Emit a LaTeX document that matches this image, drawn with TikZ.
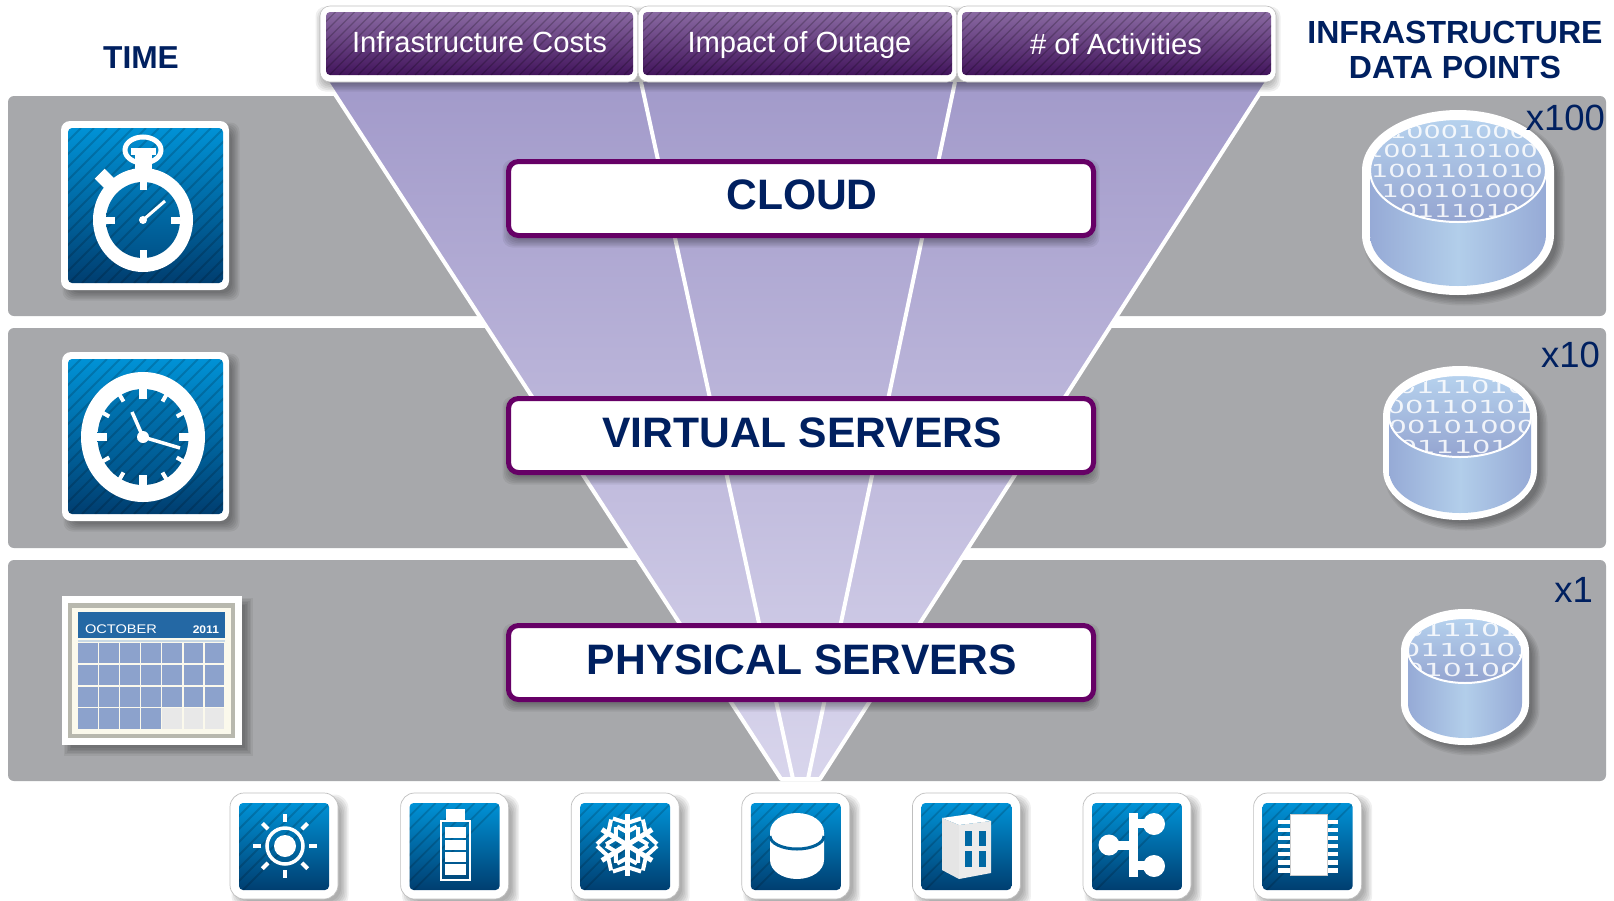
\documentclass[tikz,border=0pt]{standalone}
\usepackage{fontspec}
\setmainfont{Liberation Sans}
\newfontfamily\digitfont{DejaVu Sans}
\definecolor{navy}{RGB}{0,32,96}
\definecolor{bandgray}{RGB}{167,168,171}
\definecolor{mainpurple}{RGB}{102,0,102}
\definecolor{bluetop}{RGB}{0,146,214}
\definecolor{bluebot}{RGB}{0,62,112}
\definecolor{tabtop}{RGB}{138,106,162}
\definecolor{tabbot}{RGB}{66,20,92}
\definecolor{cellblue}{RGB}{140,162,204}
\definecolor{funtop}{RGB}{162,154,202}
\definecolor{funbot}{RGB}{216,213,236}
\definecolor{calhead}{RGB}{36,104,164}
\definecolor{calband}{RGB}{200,216,228}
\definecolor{calframe}{RGB}{184,184,174}
\definecolor{calcream}{RGB}{251,249,236}
\definecolor{cylside}{RGB}{150,170,214}
\definecolor{cylmid}{RGB}{178,206,234}
\definecolor{cyltop}{RGB}{182,210,238}
\definecolor{cylbot}{RGB}{148,164,208}
\newcommand{\fsz}[1]{\fontsize{#1}{#1}\selectfont}
% soft shadow: x1 y1 x2 y2 radius dx dy
\newcommand{\softshadow}[7]{%
  \foreach \i in {0,...,5}{%
    \fill[black,opacity=.06,rounded corners=#5pt]
      ({#1+#6+3-\i*1.5},{#2+#7+3-\i*1.5}) rectangle ({#3+#6-3+\i*1.5},{#4+#7-3+\i*1.5});}}
% stripes: x1 y1 x2 y2 radius spacing width opacity
\newcommand{\stripes}[8]{%
  \begin{scope}
    \clip[rounded corners=#5pt] (#1,#2) rectangle (#3,#4);
    \pgfmathtruncatemacro{\nst}{(#3-#1+#4-#2)/#6+1}
    \foreach \k in {0,...,\nst}{%
      \draw[black,opacity=#8,line width=#7pt] ({#1-(#4-#2)+\k*#6},#4) -- ({#1+\k*#6},#2);}
  \end{scope}}
% icon tile: outer x1 y1 x2 y2, inner x1 y1 x2 y2, outer radius
\newcommand{\icontile}[9]{%
  \softshadow{#1}{#2}{#3}{#4}{#9}{6}{6}
  \fill[white,rounded corners=#9pt] (#1,#2) rectangle (#3,#4);
  \shade[top color=bluetop,bottom color=bluebot,rounded corners=4pt] (#5,#6) rectangle (#7,#8);
  \stripes{#5}{#6}{#7}{#8}{4}{13}{1.8}{.16}}
% cylinder: cx rxo ytop ybot rxi etop ebot ibot
\newcommand{\cyl}[8]{%
  \pgfmathsetmacro{\yc}{(#6+#7)/2}
  \pgfmathsetmacro{\ryi}{(#7-#6)/2}
  \pgfmathsetmacro{\ryo}{\yc-#3}
  \pgfmathsetmacro{\yb}{#4-\ryo}
  \pgfmathsetmacro{\rib}{#8-\yb}
  \foreach \i in {0,...,5}{%
    \pgfmathsetmacro{\sa}{#2-3+\i*1.5}
    \pgfmathsetmacro{\sb}{\ryo-3+\i*1.5}
    \fill[black,opacity=.06]
      ({#1+6-\sa},{\yc+6}) arc[start angle=180,end angle=0,x radius=\sa pt,y radius=\sb pt]
      -- ({#1+6+\sa},{\yb+6}) arc[start angle=0,end angle=-180,x radius=\sa pt,y radius=\sb pt] -- cycle;}
  \fill[white]
      ({#1-#2},\yc) arc[start angle=180,end angle=0,x radius=#2pt,y radius=\ryo pt]
      -- ({#1+#2},\yb) arc[start angle=0,end angle=-180,x radius=#2pt,y radius=\ryo pt] -- cycle;
  \shade[left color=cylside,right color=cylside,middle color=cylmid]
      ({#1-#5},\yc) -- ({#1-#5},\yb) arc[start angle=180,end angle=360,x radius=#5pt,y radius=\rib pt]
      -- ({#1+#5},\yc) -- cycle;
  \shade[top color=cyltop,bottom color=cylbot]
      (#1,\yc) ellipse[x radius=#5pt,y radius=\ryi pt];
  \draw[white,line width=2pt] (#1,\yc) ellipse[x radius=#5pt,y radius=\ryi pt];}
\newcommand{\bits}[2]{\scalebox{#1}[1]{\digitfont\fsz{18}#2}}
\tikzset{
  txt/.style={inner sep=0pt,outer sep=0pt,anchor=base},
  hdr/.style={txt,text=navy,font=\bfseries},
  tabtxt/.style={txt,text=white,font=\fsz{29.2}},
  mult/.style={inner sep=0pt,outer sep=0pt,anchor=base east,text=navy,font=\fsz{36.5}},
  mainbox/.style={draw=mainpurple,line width=5pt,fill=white,rounded corners=10pt,minimum width=585pt,minimum height=74pt,inner sep=0pt,outer sep=0pt},
  maintxt/.style={txt,text=navy,font=\bfseries\fsz{42.6}},
  bit/.style={inner sep=0pt,outer sep=0pt,text=white,opacity=.85},
}
\begin{document}
\begin{tikzpicture}[x=1pt,y=-1pt]
\useasboundingbox (0,0) rectangle (1614,900);
\fill[white] (0,0) rectangle (1614,900);
% bands
\fill[bandgray,rounded corners=6pt] (8,96) rectangle (1606,316);
\fill[bandgray,rounded corners=6pt] (8,328) rectangle (1606,548);
\fill[bandgray,rounded corners=6pt] (8,560) rectangle (1606,781);
% funnel
\coordinate (fTL) at (327,82);
\coordinate (fTR) at (1267,82);
\coordinate (fBL) at (781,779);
\coordinate (fBR) at (820,779);
\coordinate (iTL) at (641,82);
\coordinate (iBL) at (793,779);
\coordinate (iTR) at (955,82);
\coordinate (iBR) at (808,779);
\shade[top color=funtop,bottom color=funbot] (fTL) -- (fTR) -- (fBR) -- (fBL) -- cycle;
\draw[white,line width=4pt,line join=round] (fTL) -- (fBL) -- (fBR) -- (fTR);
\draw[white,line width=4pt] (iTL) -- (iBL);
\draw[white,line width=4pt] (iTR) -- (iBR);
% tabs
\softshadow{320}{6}{1276}{82}{10}{0}{5}
\foreach \xa/\xb/\ia/\ib in {320/638/326/633,638/957/643/952,957/1276/962/1271}{%
  \fill[white,rounded corners=10pt] (\xa,6) rectangle (\xb,82);
  \draw[black!25,line width=.6pt,rounded corners=10pt] (\xa,6) rectangle (\xb,82);
  \shade[top color=tabtop,bottom color=tabbot,rounded corners=4pt] (\ia,12) rectangle (\ib,75);
  \stripes{\ia}{12}{\ib}{75}{4}{9.5}{1.1}{.22}
}
\node[tabtxt] (tabA) at (479.5,52) {Infrastructure Costs};
\node[tabtxt] (tabB) at (799.5,52) {Impact of Outage};
\node[tabtxt] (tabC) at (1116,54) {\# of Activities};
% headers
\node[hdr,font=\bfseries\fsz{31.7}] (time) at (141,68) {TIME};
\node[hdr,font=\bfseries\fsz{32}] (infra) at (1455,43) {INFRASTRUCTURE};
\node[hdr,font=\bfseries\fsz{32}] (dpts) at (1455,78) {DATA POINTS};
% main boxes
\softshadow{507}{159}{1095}{238}{10}{0}{5}
\softshadow{507}{396}{1095}{475}{10}{0}{5}
\softshadow{507}{623}{1095}{702}{10}{0}{5}
\node[mainbox] (cloudbox) at (801,198.5) {};
\node[mainbox] (virtbox) at (801,435.5) {};
\node[mainbox] (physbox) at (801,662.5) {};
\node[maintxt] (cloud) at (802,209) {CLOUD};
\node[maintxt] (virt) at (802,447) {VIRTUAL SERVERS};
\node[maintxt] (phys) at (802,674) {PHYSICAL SERVERS};
% stopwatch
\icontile{61}{121}{229}{290}{68}{128}{223}{283}{9}
\fill[white] (143,220) ellipse[x radius=50pt,y radius=52pt];
\begin{scope}[shift={(106,180)},rotate=-45]
  \fill[white] (-9,-7) rectangle (9,7);
\end{scope}
\draw[white,line width=5pt] (143,150) ellipse[x radius=18pt,y radius=13pt];
\fill[white] (135,152) rectangle (152,172);
\fill[white] (131,148) rectangle (156,155);
\shade[top color=bluetop!70!bluebot,bottom color=bluetop!25!bluebot] (143,220) ellipse[x radius=37pt,y radius=38pt];
\begin{scope}
  \clip (143,220) ellipse[x radius=37pt,y radius=38pt];
  \foreach \k in {0,...,8}{\draw[black,opacity=.16,line width=1.8pt] ({0+\k*13},270) -- ({100+\k*13},170);}
\end{scope}
\fill[white] (139.5,181) rectangle (146.5,190);
\fill[white] (139.5,250) rectangle (146.5,259);
\fill[white] (106,216.5) rectangle (115,223.5);
\fill[white] (171,216.5) rectangle (180,223.5);
\draw[white,line width=3pt] (143,220) -- (165,201);
\fill[white] (143,220) circle[radius=4pt];
% clock
\icontile{62}{352}{229}{521}{68}{359}{223}{514}{9}
\fill[white] (143,437) ellipse[x radius=62pt,y radius=65pt];
\shade[top color=bluetop!70!bluebot,bottom color=bluetop!25!bluebot] (143,437) ellipse[x radius=45.5pt,y radius=48pt];
\begin{scope}
  \clip (143,437) ellipse[x radius=45.5pt,y radius=48pt];
  \foreach \k in {0,...,13}{\draw[black,opacity=.16,line width=1.8pt] ({-30+\k*13},500) -- ({100+\k*13},370);}
\end{scope}
\foreach \a in {30,60,120,150,210,240,300,330}{%
  \draw[white,line width=4pt] ({143+39*cos(\a)},{437+41*sin(\a)}) -- ({143+47*cos(\a)},{437+49*sin(\a)});}
\foreach \a in {0,90,180,270}{%
  \draw[white,line width=8pt] ({143+36*cos(\a)},{437+38*sin(\a)}) -- ({143+47*cos(\a)},{437+49*sin(\a)});}
\draw[white,line width=3.5pt] (143,437) -- (132,412);
\draw[white,line width=3.5pt] (143,437) -- (180,448);
\fill[white] (143,437) circle[radius=6pt];
% calendar
\softshadow{62}{596}{242}{745}{0}{6}{6}
\fill[white] (62,596) rectangle (242,745);
\fill[calframe] (68,603) rectangle (235,738);
\fill[calcream] (72,608) rectangle (231,734);
\fill[calhead] (78,612) rectangle (225,638);
\fill[calband] (78,640) rectangle (225,642);
\foreach \r in {0,...,3}{\foreach \c in {0,...,6}{%
  \pgfmathtruncatemacro{\isgray}{(\r==3 && \c>3)?1:0}
  \ifnum\isgray=1
    \fill[black!9] ({78+\c*21.1},{643+\r*21.8}) rectangle ({78+\c*21.1+19.6},{643+\r*21.8+20.3});
  \else
    \fill[cellblue] ({78+\c*21.1},{643+\r*21.8}) rectangle ({78+\c*21.1+19.6},{643+\r*21.8+20.3});
  \fi}}
\node[txt,anchor=base west,text=white] (oct) at (85,633) {\scalebox{1.17}[1]{\fsz{12.5}OCTOBER}};
\node[txt,anchor=base east,text=white,font=\bfseries] (yr) at (219,633) {\scalebox{1.1}[1]{\fsz{11}2011}};
% cylinders
\cyl{1458}{96}{110}{295}{88}{119}{222}{286}
\begin{scope}
  \clip (1458,170.5) ellipse[x radius=87pt,y radius=50.5pt];
  \foreach \tx/\ty/\tt in {1458/132/10001000,1452/151/1001110100,1457/171/1001101010,1459/191/100101000,1460/211/0111010}{%
    \node[bit] at (\tx,\ty) {\bits{1.5}{\tt}};}
\end{scope}
\cyl{1460}{77}{366}{520}{71}{375}{457}{513}
\begin{scope}
  \clip (1460,416) ellipse[x radius=70pt,y radius=40pt];
  \foreach \tx/\ty/\tt in {1462/387/0111010,1460/407/00110101,1462/427/00101000,1463/447/0111010}{%
    \node[bit] at (\tx,\ty) {\bits{1.6}{\tt}};}
\end{scope}
\cyl{1465}{64}{609}{745}{57}{618}{683}{738}
\begin{scope}
  \clip (1465,650.5) ellipse[x radius=56pt,y radius=31.5pt];
  \foreach \tx/\ty/\tt in {1462/630/011101,1468/650/0110101,1462/670/010100}{%
    \node[bit] at (\tx,\ty) {\bits{1.66}{\tt}};}
\end{scope}
\node[mult] (m100) at (1605,130) {x100};
\node[mult] (m10) at (1600,367) {x10};
\node[mult] (m1) at (1593,602) {x1};
% bottom tiles
\foreach \cx in {284,454.6,625.2,795.8,966.4,1137,1307.6}{%
  \icontile{\cx-54}{793}{\cx+54}{899}{\cx-45}{803}{\cx+45}{890}{14}
  \draw[black!25,line width=.7pt,rounded corners=14pt] ({\cx-54},793) rectangle ({\cx+54},899);}
% sun
\foreach \a in {0,45,...,315}{%
  \draw[white,line width=4pt] ({285+24*cos(\a)},{846+24*sin(\a)}) -- ({285+32*cos(\a)},{846+32*sin(\a)});}
\draw[white,line width=3.5pt] (285,846) circle[radius=18pt];
\fill[white] (285,846) circle[radius=11pt];
% battery
\fill[white] (446,809) rectangle (465,821);
\draw[white,line width=2.5pt] (441,821) rectangle (470,880);
\foreach \ya/\yb in {827/838,840/850,852/862,864/875}{\fill[white] (445,\ya) rectangle (466,\yb);}
% snowflake
\foreach \a in {30,90,...,330}{%
  \draw[white,line width=5pt] (627,845) -- ({627+29*cos(\a)},{845+31*sin(\a)});
  \foreach \r in {13,22}{%
    \draw[white,line width=4pt] ({627+(\r+8)*cos(\a+28)},{845+(\r+8)*sin(\a+28)}) -- ({627+\r*cos(\a)},{845+\r*sin(\a)}) -- ({627+(\r+8)*cos(\a-28)},{845+(\r+8)*sin(\a-28)});}}
% database
\fill[white] (770,832) arc[start angle=180,end angle=0,x radius=27pt,y radius=19pt] -- (824,860) arc[start angle=0,end angle=-180,x radius=27pt,y radius=19pt] -- cycle;
\draw[bluebot!60!bluetop,line width=3pt] (770,836) arc[start angle=180,end angle=360,x radius=27pt,y radius=13pt];
% building
\fill[white] (942,818) -- (970,814) -- (991,821) -- (959,825) -- cycle;
\fill[black!10] (942,818) -- (959,825) -- (959,879) -- (942,870) -- cycle;
\fill[black!8] (959,825) -- (991,821) -- (991,873) -- (959,879) -- cycle;
\foreach \xa in {965,979}{\foreach \ya/\yb in {831/846,851/867}{%
  \fill[bluebot!50!bluetop] (\xa,\ya) rectangle ({\xa+6.5},\yb);}}
% network
\fill[white] (1129,813) rectangle (1138,877);
\fill[white] (1109,845) circle[radius=10.5pt];
\fill[white] (1154,824) circle[radius=11pt];
\fill[white] (1154,866) circle[radius=11pt];
\fill[white] (1109,841) rectangle (1130,850);
\fill[white] (1137,819) rectangle (1154,828);
\fill[white] (1137,861) rectangle (1154,870);
% chip
\foreach \k in {0,...,6}{%
  \fill[white] (1278,{819.5+\k*8.1}) rectangle (1338,{819.5+\k*8.1+4.5});}
\fill[white,draw=black!20,line width=1pt] (1290,814) rectangle (1327,875);
\end{tikzpicture}
\end{document}
